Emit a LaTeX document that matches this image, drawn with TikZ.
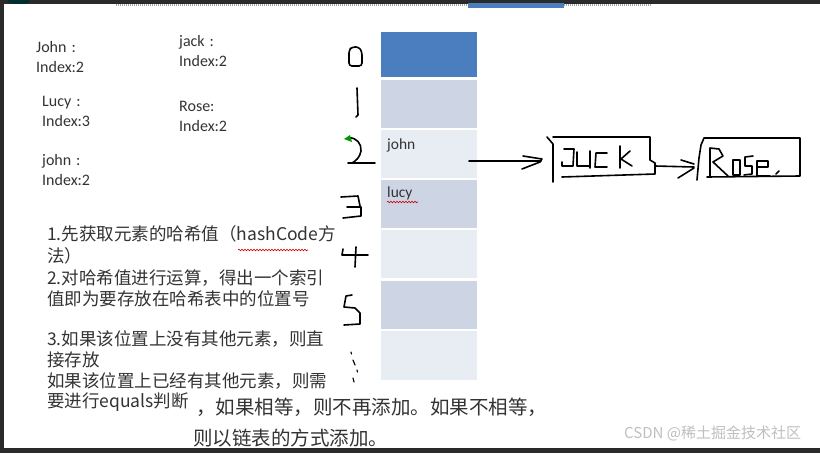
\documentclass[tikz,border=0pt]{standalone}
\usepackage{fontspec}
\setmainfont{Carlito}
\newfontfamily\cjk{Noto Sans CJK SC}
\usetikzlibrary{decorations.pathmorphing}
\definecolor{blueA}{HTML}{4A7EBF}
\definecolor{rowD}{HTML}{CDD5E4}
\definecolor{rowL}{HTML}{E8ECF3}
\definecolor{frameC}{HTML}{2A2A2A}
\definecolor{inkC}{HTML}{333333}
\begin{document}
\begin{tikzpicture}[x=1pt,y=-1pt,
  hand/.style={line width=1.6pt, black, line cap=round, line join=round},
  lbl/.style={anchor=base west, inner sep=0pt, font=\fontsize{16}{16}\selectfont, text=inkC},
  celltxt/.style={anchor=base west, inner sep=0pt, font=\fontsize{15.5}{15.5}\selectfont, text=inkC},
  cn/.style={anchor=base west, inner sep=0pt, font=\cjk\fontsize{17.5}{17.5}\selectfont, text=inkC},
  big/.style={anchor=base west, inner sep=0pt, font=\cjk\fontsize{19.5}{19.5}\selectfont, text=inkC},
  cell/.style={anchor=north west, minimum width=96pt, inner sep=0pt, draw=none},
  wavy/.style={red!80!black, line width=0.6pt, decorate, decoration={snake, amplitude=0.8pt, segment length=3pt}}
]
\useasboundingbox (0,0) rectangle (820,453);
% frame
\fill[frameC] (0,0) rectangle (820,453);
\fill[white] (4,4) rectangle (820,448);
\fill[teal!35!black] (19,1) ellipse (11pt and 3pt);
\draw[gray!70, line width=1.5pt, dash pattern=on 1pt off 1pt] (116,5) -- (651,5);
\fill[blueA] (468,3) rectangle (564,7.5);

% table
\node[cell, fill=blueA, minimum height=45pt] (r0) at (381,32) {};
\node[cell, fill=rowD, minimum height=48pt] (r1) at (381,80) {};
\node[cell, fill=rowL, minimum height=48pt] (r2) at (381,130) {};
\node[cell, fill=rowD, minimum height=48pt] (r3) at (381,180) {};
\node[cell, fill=rowL, minimum height=48pt] (r4) at (381,230) {};
\node[cell, fill=rowD, minimum height=48pt] (r5) at (381,281) {};
\node[cell, fill=rowL, minimum height=49pt] (r6) at (381,331) {};
\node[celltxt] (tjohn) at (387,149) {john};
\node[celltxt] (tlucy) at (387,197) {lucy};
\draw[wavy] (387,202) -- (418,202);

% left labels
\node[lbl] (l1) at (36,52) {John\hspace{5pt}:};
\node[lbl] (l1b) at (36,72) {Index:2};
\node[lbl] (l2) at (42,106) {Lucy\hspace{5pt}:};
\node[lbl] (l2b) at (42,126) {Index:3};
\node[lbl] (l3) at (42,165) {john\hspace{5pt}:};
\node[lbl] (l3b) at (42,185) {Index:2};
\node[lbl] (l4) at (179,46) {jack\hspace{5pt}:};
\node[lbl] (l4b) at (179,66) {Index:2};
\node[lbl] (l5) at (179,111) {Rose:};
\node[lbl] (l5b) at (179,131) {Index:2};

% chinese steps
\node[cn] (s1) at (47,240) {1.先获取元素的哈希值（hashCode方};
\draw[wavy] (238,250) -- (308,250);
\node[cn] (s1b) at (47,262) {法）};
\node[cn] (s2) at (47,284) {2.对哈希值进行运算，得出一个索引};
\node[cn] (s2b) at (47,305) {值即为要存放在哈希表中的位置号};
\node[cn] (s3) at (47,345) {3.如果该位置上没有其他元素，则直};
\node[cn] (s3b) at (47,366) {接存放};
\node[cn] (s4) at (47,387) {如果该位置上已经有其他元素，则需};
\node[cn] (s4b) at (47,407) {要进行equals判断};
\node[big] (b1) at (196,414) {，如果相等，则不再添加。如果不相等，};
\node[big] (b2) at (193,445) {则以链表的方式添加。};
\node[anchor=base west, inner sep=0pt, font=\cjk\fontsize{15}{15}\selectfont, text=gray!50] (wm) at (624,438) {CSDN @稀土掘金技术社区};

% hand-drawn index digits
\draw[hand, rounded corners=3pt] (349,66) -- (349,50) -- (352,47) -- (359,47) -- (362,52) -- (362,66) -- cycle;
\draw[hand] (357,88) -- (358,115) -- (356,117);
\draw[hand] (349,138) .. controls (356,137) and (362,144) .. (361,151) .. controls (360,157) and (356,161) .. (352,163);
\draw[hand] (348,163) -- (375,163);
\fill[green!60!black] (344,139) -- (350,135) -- (352,142) -- cycle;
\draw[hand] (341,197) -- (358,196) -- (360,206);
\draw[hand] (347,207) -- (361,207) -- (361,216) -- (343,218);
\draw[hand] (343,249) -- (342,255) -- (368,255);
\draw[hand] (356,247) -- (355,267);
\draw[hand] (352,295) -- (346,296) -- (344,307) -- (355,308) -- (360,313) -- (360,324) -- (344,325);
\draw[hand, line width=1.2pt] (351,352) -- (351.5,354);
\draw[hand, line width=1.2pt] (353,360) -- (355,365);
\draw[hand, line width=1.2pt] (357,370) -- (357.5,372);
\draw[hand, line width=1.2pt] (353,378) -- (354,382);

% arrow to Jack
\coordinate (a1s) at (469,161);
\coordinate (a1e) at (541,161);
\draw[hand] (a1s) -- (a1e);
\draw[hand] (523,156) -- (542,159) -- (540,162) -- (522,169);

% Jack box
\coordinate (jk) at (603,158);
\draw[hand] (547,137) -- (553,144) -- (553,182);
\draw[hand] (553,137) -- (650,137) -- (650,160) -- (655,163) -- (655,174) -- (562,177);
\draw[hand] (564,149) -- (574,149) -- (573,166) -- (562,166) -- (562,162);
\draw[hand] (577,152) -- (577,166) -- (590,166);
\draw[hand] (590,151) -- (590,168);
\draw[hand] (607,153) -- (596,153) -- (595,167) -- (607,167);
\draw[hand] (620,146) -- (620,168);
\draw[hand] (630,151) -- (621,159) -- (632,166);

% arrow to Rose
\coordinate (a2s) at (655,166);
\coordinate (a2e) at (694,167);
\draw[hand] (a2s) -- (a2e);
\draw[hand] (681,160) -- (694,164);
\draw[hand] (678,178) -- (694,168);

% Rose box
\draw[hand] (697,180) -- (699,158) -- (701,145) -- (704,138) -- (800,138) -- (800,176) -- (707,177);
\draw[hand] (710,177) -- (710,148) -- (719,149) -- (723,156) -- (713,162) -- (728,176);
\draw[hand] (733,160) -- (740,160) -- (740,175) -- (733,175) -- cycle;
\draw[hand] (753,156) -- (745,157) -- (745,166) -- (752,166) -- (752,174) -- (744,175);
\draw[hand] (757,167) -- (768,167) -- (768,161) -- (757,161) -- (757,176) -- (770,176);
\draw[hand] (776,174) -- (779,171);
\end{tikzpicture}
\end{document}
